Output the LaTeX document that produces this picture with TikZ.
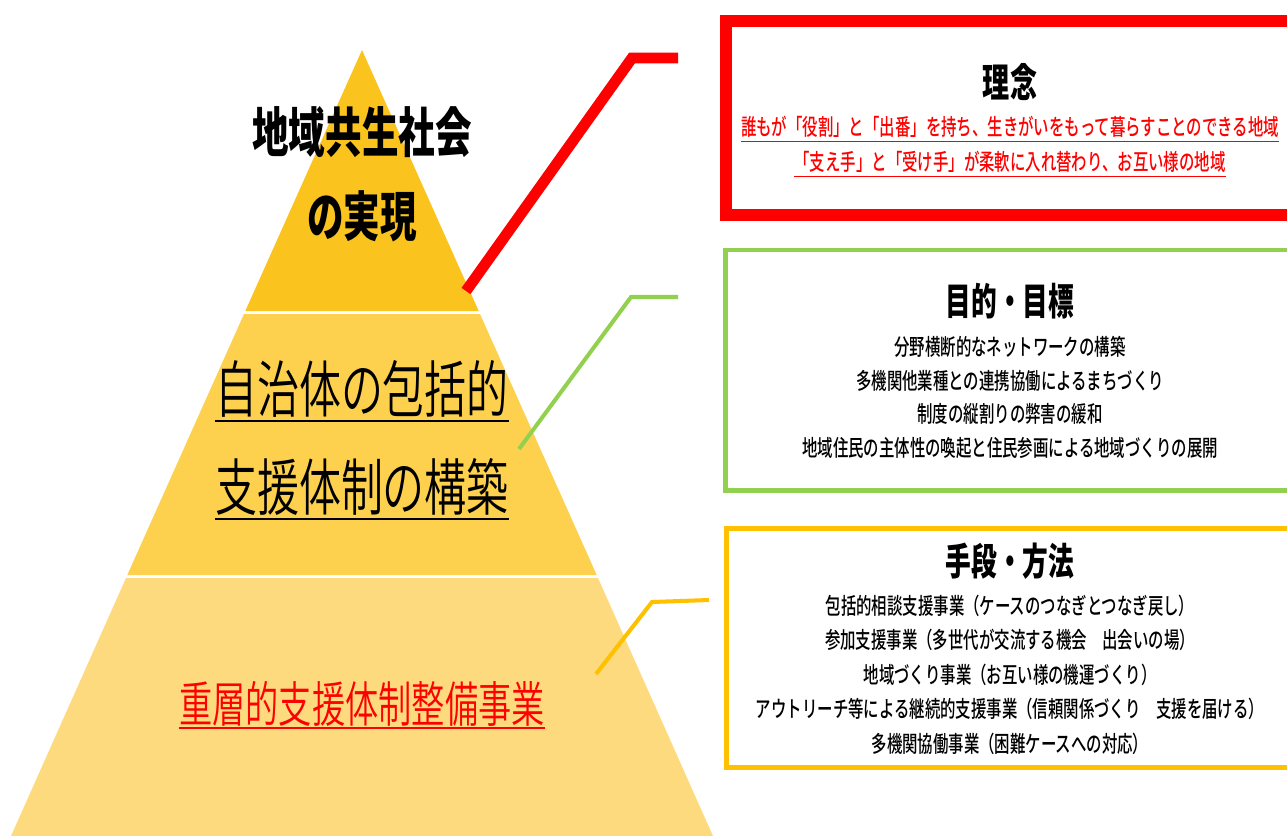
\documentclass[tikz,border=0pt]{standalone}
\usepackage{fontspec}
\newfontfamily\jp{Noto Sans CJK JP}[FakeStretch=0.68]
\IfFontExistsTF{Noto Sans CJK JP Medium}
  {\newfontfamily\jpm{Noto Sans CJK JP Medium}[FakeStretch=0.68]}
  {\newfontfamily\jpm{Noto Sans CJK JP}[FakeStretch=0.68,FakeBold=0.8]}
\IfFontExistsTF{Noto Sans CJK JP DemiLight}
  {\newfontfamily\jpl{Noto Sans CJK JP DemiLight}[FakeStretch=0.68]}
  {\newfontfamily\jpl{Noto Sans CJK JP}[FakeStretch=0.68]}
\definecolor{tierA}{HTML}{FBC31E}
\definecolor{tierB}{HTML}{FDD04E}
\definecolor{tierC}{HTML}{FEDA7E}
\definecolor{lred}{HTML}{FF0000}
\definecolor{lgreen}{HTML}{92D050}
\definecolor{lyellow}{HTML}{FFC000}
\newcommand{\pxf}[1]{\jp\fontsize{#1}{#1}\selectfont}
\newcommand{\pxm}[1]{\jpm\fontsize{#1}{#1}\selectfont}
\newcommand{\pxl}[1]{\jpl\fontsize{#1}{#1}\selectfont}
\tikzset{
  txt/.style={inner sep=0pt, anchor=base},
  boxframe/.style={draw, inner sep=0pt, fill=none},
  conn/.style={line cap=butt, line join=miter},
  ul/.style={line cap=butt},
  title/.style={txt, font={\pxf{22.7pt}\bfseries}},
  subtitle/.style={txt, font={\pxf{21.5pt}\bfseries}},
  item/.style={txt, font={\pxm{12.9pt}}},
}
\begin{document}
\begin{tikzpicture}[x=0.02cm,y=-0.02cm]
\useasboundingbox (0,0) rectangle (1287,835);
\clip (0,0) rectangle (1287,835);
% pyramid tiers
\fill[tierA] (362,50) -- (478.7,311) -- (245.3,311) -- cycle;
\fill[tierB] (244,314) -- (480,314) -- (596.7,575) -- (127.3,575) -- cycle;
\fill[tierC] (126,578) -- (598,578) -- (717,845) -- (7,845) -- cycle;
% pyramid texts
\node[txt, font={\pxf{30.6pt}\bfseries}] (top1) at (362,152.7) {地域共生社会};
\node[txt, font={\pxf{30.6pt}\bfseries}] (top2) at (362,236.7) {の実現};
\node[txt, font={\pxl{35.15pt}}] (mid1) at (362,412.6) {自治体の包括的};
\node[txt, font={\pxl{35.15pt}}] (mid2) at (362,510.6) {支援体制の構築};
\node[txt, font={\pxl{27.8pt}}, text=lred] (bot1) at (362,722) {重層的支援体制整備事業};
\draw[ul, line width=1.2pt] ([yshift=-4.8pt]mid1.base west) -- ([yshift=-4.8pt]mid1.base east);
\draw[ul, line width=1.2pt] ([yshift=-4.8pt]mid2.base west) -- ([yshift=-4.8pt]mid2.base east);
\draw[ul, line width=1.6pt, lred] ([yshift=-3.4pt]bot1.base west) -- ([yshift=-3.4pt]bot1.base east);
% boxes
\node[boxframe, draw=lred, line width=6.5pt, minimum width=11.48cm, minimum height=3.88cm] (rinen) at (1013,118) {};
\node[boxframe, draw=lgreen, line width=2.8pt, minimum width=11.49cm, minimum height=4.81cm] (mokuteki) at (1012.75,370.25) {};
\node[boxframe, draw=lyellow, line width=2.8pt, minimum width=11.48cm, minimum height=4.78cm] (shudan) at (1013,648) {};
% box texts
\node[title] (t1) at (1010,97.5) {理念};
\node[item, text=lred] (r1) at (1010,135.5) {誰もが「役割」と「出番」を持ち、生きがいをもって暮らすことのできる地域};
\node[item, text=lred] (r2) at (1010,170.3) {「支え手」と「受け手」が柔軟に入れ替わり、お互い様の地域};
\draw[ul, lred, line width=0.8pt] ([yshift=-3.4pt]r1.base west) -- ([yshift=-3.4pt]r1.base east);
\draw[ul, lred, line width=0.8pt] ([yshift=-3.4pt]r2.base west) -- ([yshift=-3.4pt]r2.base east);

\node[subtitle] (t2) at (1010,315) {目的・目標};
\node[item] (g1) at (1010,355.3) {分野横断的なネットワークの構築};
\node[item] (g2) at (1010,389.3) {多機関他業種との連携協働によるまちづくり};
\node[item] (g3) at (1010,422.3) {制度の縦割りの弊害の緩和};
\node[item] (g4) at (1010,456.3) {地域住民の主体性の喚起と住民参画による地域づくりの展開};

\node[subtitle] (t3) at (1010,575) {手段・方法};
\node[item] (y1) at (1010,614.3) {包括的相談支援事業（ケースのつなぎとつなぎ戻し）};
\node[item] (y2) at (1010,648.3) {参加支援事業（多世代が交流する機会　出会いの場）};
\node[item] (y3) at (1010,683.3) {地域づくり事業（お互い様の機運づくり）};
\node[item] (y4) at (1010,717.3) {アウトリーチ等による継続的支援事業（信頼関係づくり　支援を届ける）};
\node[item] (y5) at (1010,752.3) {多機関協働事業（困難ケースへの対応）};
% connectors
\coordinate (ra) at (466,291);
\coordinate (rb) at (632,58);
\coordinate (rc) at (678,58);
\coordinate (ga) at (519,449);
\coordinate (gb) at (631,297);
\coordinate (gc) at (678,297);
\coordinate (ya) at (596,674);
\coordinate (yb) at (652,602);
\coordinate (yc) at (709,600);
\draw[conn, lred, line width=6.2pt] (ra) -- (rb) -- (rc);
\draw[conn, lgreen, line width=2.3pt] (ga) -- (gb) -- (gc);
\draw[conn, lyellow, line width=2.3pt] (ya) -- (yb) -- (yc);
\end{tikzpicture}
\end{document}
